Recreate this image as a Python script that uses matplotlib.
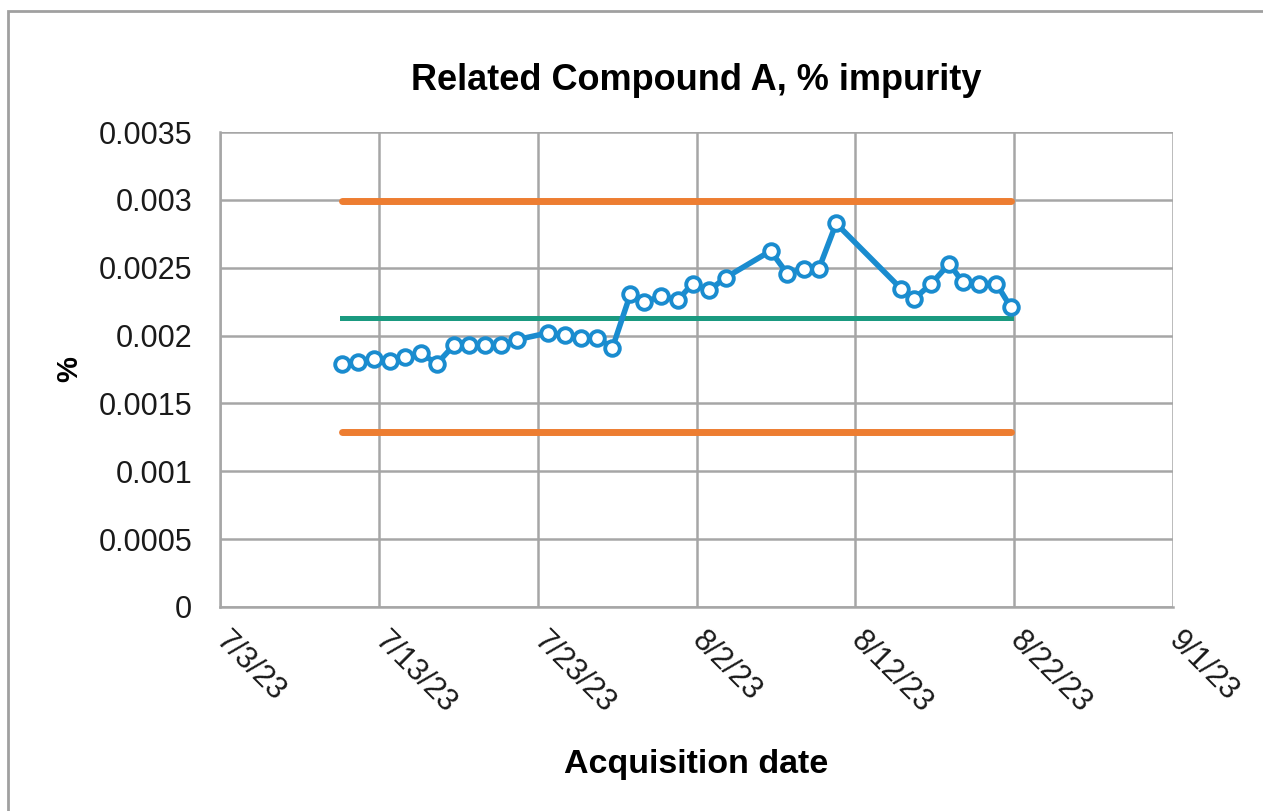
import matplotlib
matplotlib.use("Agg")
import matplotlib.pyplot as plt
from matplotlib.patches import Rectangle
import pandas as pd

plt.rcParams['font.family'] = ['Liberation Sans', 'DejaVu Sans']

# acquisition times and % impurity
dates = [
    "2023-07-10 17:00", "2023-07-11 17:00", "2023-07-12 16:00", "2023-07-13 17:00",
    "2023-07-14 16:00", "2023-07-15 15:00", "2023-07-16 16:00", "2023-07-17 17:00",
    "2023-07-18 16:00", "2023-07-19 17:00", "2023-07-20 16:00", "2023-07-21 17:00",
    "2023-07-23 16:00", "2023-07-24 18:00", "2023-07-25 17:00", "2023-07-26 18:00",
    "2023-07-27 17:00", "2023-07-28 20:00", "2023-07-29 17:00", "2023-07-30 18:00",
    "2023-07-31 20:00", "2023-08-01 18:00", "2023-08-02 19:00", "2023-08-03 20:00",
    "2023-08-06 16:00", "2023-08-07 17:00", "2023-08-08 19:00", "2023-08-09 17:00",
    "2023-08-10 19:00", "2023-08-14 21:00", "2023-08-15 17:00", "2023-08-16 18:00",
    "2023-08-17 22:00", "2023-08-18 18:00", "2023-08-19 19:00", "2023-08-20 21:00",
    "2023-08-21 19:00",
]
impurity = [
    0.001794, 0.001802, 0.001824, 0.001810, 0.001839, 0.001868, 0.001794, 0.001927,
    0.001927, 0.001927, 0.001927, 0.001970, 0.002020, 0.002003, 0.001983, 0.001983,
    0.001910, 0.002304, 0.002247, 0.002289, 0.002262, 0.002383, 0.002333, 0.002427,
    0.002624, 0.002457, 0.002494, 0.002494, 0.002826, 0.002346, 0.002272, 0.002378,
    0.002530, 0.002395, 0.002383, 0.002383, 0.002208,
]
mean_level = 0.002127
upper_limit = 0.00299
lower_limit = 0.001292

y_ticks = [0, 0.0005, 0.001, 0.0015, 0.002, 0.0025, 0.003, 0.0035]
y_labels = ["0", "0.0005", "0.001", "0.0015", "0.002", "0.0025", "0.003", "0.0035"]
x_ticks = ["2023-07-03", "2023-07-13", "2023-07-23", "2023-08-02",
           "2023-08-12", "2023-08-22", "2023-09-01"]
x_labels = ["7/3/23", "7/13/23", "7/23/23", "8/2/23", "8/12/23", "8/22/23", "9/1/23"]

x = pd.to_datetime(dates)

fig = plt.figure(figsize=(12.63, 8.11), dpi=100)
ax = fig.add_axes([220 / 1263, 1 - 607 / 811, 953 / 1263, 475 / 811])

ax.plot([x[0], x[-1]], [upper_limit, upper_limit], color="#ed7d31", lw=5, solid_capstyle="round", zorder=3)
ax.plot([x[0], x[-1]], [lower_limit, lower_limit], color="#ed7d31", lw=5, solid_capstyle="round", zorder=3)
ax.plot([x[0], x[-1]], [mean_level, mean_level], color="#1a9a80", lw=3.6, zorder=3)
ax.plot(x, impurity, color="#1a8ccf", lw=4, marker="o", markersize=10.5,
        markerfacecolor="white", markeredgecolor="#1a8ccf", markeredgewidth=2.8, zorder=4)

ax.set_xlim(pd.Timestamp("2023-07-03"), pd.Timestamp("2023-09-01"))
ax.set_ylim(0, 0.0035)
ax.set_yticks(y_ticks)
ax.set_yticklabels(y_labels)
ax.set_xticks(pd.to_datetime(x_ticks))
ax.set_xticklabels(x_labels)

ax.grid(True, color="#a6a6a6", lw=1.8)
ax.set_axisbelow(True)
for s in ["top", "right"]:
    ax.spines[s].set_visible(False)
for s in ["left", "bottom"]:
    ax.spines[s].set_color("#a6a6a6")
    ax.spines[s].set_linewidth(1.8)
ax.tick_params(axis="y", length=0, labelsize=22, pad=20, colors="#1a1a1a")
ax.tick_params(axis="x", length=0, labelsize=22, pad=21, colors="#1a1a1a")
for lab in ax.get_xticklabels():
    lab.set_rotation(-45)
    lab.set_rotation_mode("anchor")
    lab.set_ha("left")
    lab.set_va("center")

ax.set_title("Related Compound A, % impurity", fontsize=26, fontweight="bold", pad=30)
ax.set_xlabel("Acquisition date", fontsize=24.5, fontweight="bold", labelpad=22)
ax.set_ylabel("%", fontsize=21, fontweight="bold", labelpad=11)

fig.patches.append(Rectangle((8 / 1263, -0.1), 1.2, 1 - 11 / 811 + 0.1, transform=fig.transFigure,
                             fill=False, edgecolor="#a0a0a0", lw=2))

fig.savefig("out.png", dpi=100)
